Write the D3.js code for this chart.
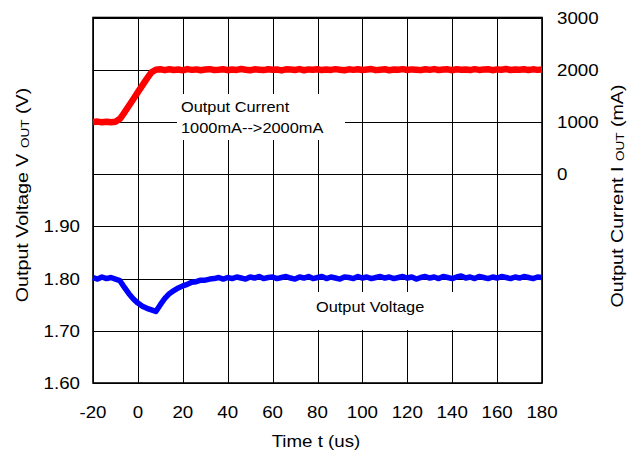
<!DOCTYPE html>
<html>
<head>
<meta charset="utf-8">
<script src="https://cdn.jsdelivr.net/npm/d3@7"></script>
<style>
body { margin: 0; background: #fff; }
text { font-family: "Liberation Sans", Arial, sans-serif; fill: #000; }
</style>
</head>
<body>
<div id="chart"></div>
<script>
// tick labels
var timeTicks = [-20, 0, 20, 40, 60, 80, 100, 120, 140, 160, 180];
var voltTicks = [1.60, 1.70, 1.80, 1.90];
var currTicks = [0, 1000, 2000, 3000];

// sample times (us)
var times = [-20, -18, -16, -14, -12, -10, -8, -6, -4, -2,
    0, 2, 4, 6, 8, 10, 12, 14, 16, 18,
    20, 22, 24, 26, 28, 30, 32, 34, 36, 38,
    40, 42, 44, 46, 48, 50, 52, 54, 56, 58,
    60, 62, 64, 66, 68, 70, 72, 74, 76, 78,
    80, 82, 84, 86, 88, 90, 92, 94, 96, 98,
    100, 102, 104, 106, 108, 110, 112, 114, 116, 118,
    120, 122, 124, 126, 128, 130, 132, 134, 136, 138,
    140, 142, 144, 146, 148, 150, 152, 154, 156, 158,
    160, 162, 164, 166, 168, 170, 172, 174, 176, 178, 180];

// output current (mA)
var current = [1000, 1006, 994, 1003, 995, 1005, 1060, 1180, 1310, 1440,
    1570, 1700, 1830, 1950, 2000,
    2008, 1992, 2010, 1995, 2004, 1988, 2012, 1997, 2006, 1990,
    2003, 2011, 1994, 2000, 2009, 1991, 2005, 1996, 2013, 1999,
    1989, 2007, 2001, 1993, 2010, 1998, 2004, 1987, 2008, 2002,
    1995, 2012, 1990, 2006, 1999, 2009, 1993, 2003, 1996, 2011,
    2000, 1991, 2007, 1997, 2010, 1994, 2005, 2013, 1992, 2001,
    2008, 1989, 2004, 1998, 2011, 1995, 2006, 2000, 1992, 2009,
    1997, 2012, 1994, 2003, 2007, 1990, 2010, 1999, 2005, 1993,
    2011, 1996, 2002, 2008, 1991, 2006, 1998, 2013, 1995, 2004,
    2000, 2009, 1993, 2007, 1997, 2003];

// output voltage (V)
var voltage = [1.802, 1.799, 1.803, 1.800, 1.802, 1.799, 1.796, 1.783, 1.771, 1.761,
    1.753, 1.747, 1.743, 1.740, 1.737, 1.750, 1.762, 1.771, 1.777, 1.782,
    1.786, 1.789, 1.793, 1.794, 1.797, 1.797, 1.799, 1.800, 1.802, 1.799,
    1.802, 1.800, 1.803, 1.801, 1.799, 1.803, 1.801, 1.804, 1.800, 1.802,
    1.803, 1.800, 1.802, 1.804, 1.801, 1.799, 1.803, 1.801, 1.804, 1.800,
    1.802, 1.804, 1.800, 1.803, 1.801, 1.799, 1.803, 1.802, 1.800, 1.804,
    1.801, 1.803, 1.800, 1.802, 1.804, 1.801, 1.803, 1.800, 1.802, 1.804,
    1.801, 1.803, 1.799, 1.802, 1.804, 1.801, 1.803, 1.800, 1.804, 1.802,
    1.800, 1.803, 1.805, 1.801, 1.803, 1.800, 1.804, 1.802, 1.800, 1.803,
    1.801, 1.804, 1.802, 1.800, 1.803, 1.801, 1.804, 1.802, 1.800, 1.803,
    1.802];

var W = 629, H = 452;
var plotL = 93, plotR = 542, plotT = 17.5, plotB = 383;
var stretch = 1.17;

var svg = d3.select("#chart").append("svg")
    .attr("width", W)
    .attr("height", H);

var x = d3.scaleLinear().domain([-20, 180]).range([plotL, plotR]);
var yV = d3.scaleLinear().domain([1.6, 2.3]).range([plotB, plotT]);
var yI = d3.scaleLinear().domain([-4000, 3000]).range([plotB, plotT]);

// grid
var grid = svg.append("g").attr("stroke", "#000").attr("stroke-width", 1);
grid.selectAll("line.v")
    .data(timeTicks)
    .enter().append("line")
    .attr("x1", function(d) { return Math.round(x(d)) + 0.5; })
    .attr("x2", function(d) { return Math.round(x(d)) + 0.5; })
    .attr("y1", plotT)
    .attr("y2", plotB);
grid.selectAll("line.h")
    .data(yV.ticks(7))
    .enter().append("line")
    .attr("x1", plotL)
    .attr("x2", plotR)
    .attr("y1", function(d) { return Math.round(yV(d)) + 0.5; })
    .attr("y2", function(d) { return Math.round(yV(d)) + 0.5; });

// label boxes hide the grid
svg.append("rect").attr("x", 177).attr("y", 94).attr("width", 168).attr("height", 46).attr("fill", "#fff");
svg.append("rect").attr("x", 310).attr("y", 292).attr("width", 157).attr("height", 38).attr("fill", "#fff");

// frame
svg.append("rect")
    .attr("x", plotL).attr("y", plotT)
    .attr("width", plotR - plotL).attr("height", plotB - plotT)
    .attr("fill", "none").attr("stroke", "#000").attr("stroke-width", 1.6);

// traces
svg.append("path")
    .datum(d3.zip(times, current))
    .attr("fill", "none")
    .attr("stroke", "#ff0000")
    .attr("stroke-width", 6.5)
    .attr("stroke-linejoin", "round")
    .attr("d", d3.line()
        .x(function(d) { return x(d[0]); })
        .y(function(d) { return yI(d[1]); }));

svg.append("path")
    .datum(d3.zip(times, voltage))
    .attr("fill", "none")
    .attr("stroke", "#0000ff")
    .attr("stroke-width", 5.5)
    .attr("stroke-linejoin", "round")
    .attr("d", d3.line()
        .x(function(d) { return x(d[0]); })
        .y(function(d) { return yV(d[1]); }));

// text helper, slightly wide glyphs like the original
function label(px, py, str, size, anchor, rot, sx) {
    return svg.append("text")
        .attr("transform", "translate(" + px + "," + py + ")" + (rot ? " rotate(" + rot + ")" : "") + " scale(" + (sx || stretch) + ",1)")
        .attr("font-size", size)
        .attr("text-anchor", anchor)
        .text(str);
}

timeTicks.forEach(function(d) { label(x(d), 418, d, 16, "middle"); });
voltTicks.forEach(function(d) { label(80, yV(d) + 6, d.toFixed(2), 16, "end"); });
currTicks.forEach(function(d) { label(557, yI(d) + 6, d, 16, "start"); });

label(316, 447, "Time t (us)", 16, "middle");

var lt = label(28, 195, "Output Voltage V ", 16, "middle", -90, 1.23);
lt.append("tspan").attr("font-size", 11).attr("dy", 1).text("OUT");
lt.append("tspan").attr("dy", -1).text(" (V)");

var rt = label(623, 196, "Output Current I ", 16, "middle", -90, 1.23);
rt.append("tspan").attr("font-size", 11).attr("dy", 1).text("OUT");
rt.append("tspan").attr("dy", -1).text(" (mA)");

label(181, 112, "Output Current", 14, "start");
label(181, 133, "1000mA-->2000mA", 14, "start");
label(316, 312, "Output Voltage", 14, "start");
</script>
</body>
</html>
